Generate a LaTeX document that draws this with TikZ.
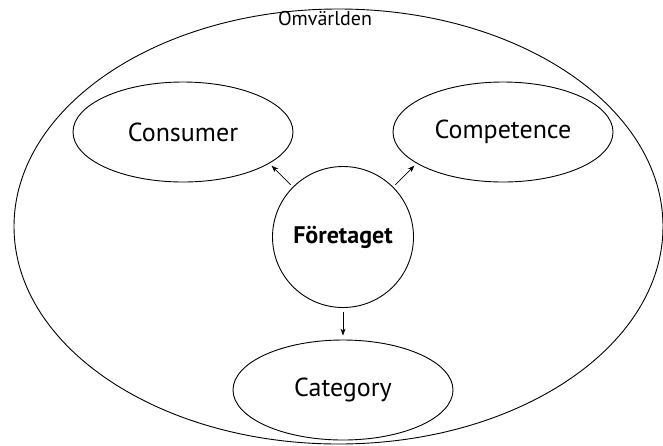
\documentclass[tikz,border=0pt]{standalone}
\usepackage{fontspec}
\setmainfont{PT Sans}
\usetikzlibrary{calc,arrows.meta,shapes.geometric}

\begin{document}
\begin{tikzpicture}[x=1pt, y=-1pt, ellipse, line width=0.9pt,
    font=\fontsize{26}{30}\selectfont, >={Stealth[length=7pt,width=5pt]}]
      \useasboundingbox (0,0) rectangle (663,445);

      \node[draw, minimum width=649pt, minimum height=435pt] (omv) at (338.5,226.5) {};
      \node[font=\fontsize{20}{24}\selectfont] (omvlabel) at (325,18) {Omvärlden};

      \node[draw, circle, minimum size=141pt, font=\fontsize{24}{28}\selectfont\bfseries] (fore) at (343,237) {Företaget};
      \node[draw, minimum width=220pt, minimum height=100pt] (cons) at ($(fore)+(-160,-105)$) {Consumer};
      \node[draw, minimum width=220pt, minimum height=100pt] (comp) at ($(fore)+(160,-105)$) {Competence};
      \node[draw, minimum width=220pt, minimum height=100pt] (cate) at ($(fore)+(0,153)$) {Category};

      \path[->, line width=0.7pt, shorten <=3pt, shorten >=3pt] (fore.135) edge (cons.-20);
      \path[->, line width=0.7pt, shorten <=3pt, shorten >=3pt] (fore.45) edge (comp.200);
      \path[->, line width=0.7pt, shorten <=4pt, shorten >=4pt] (fore.south) edge (cate.north);
    \end{tikzpicture}
\end{document}
